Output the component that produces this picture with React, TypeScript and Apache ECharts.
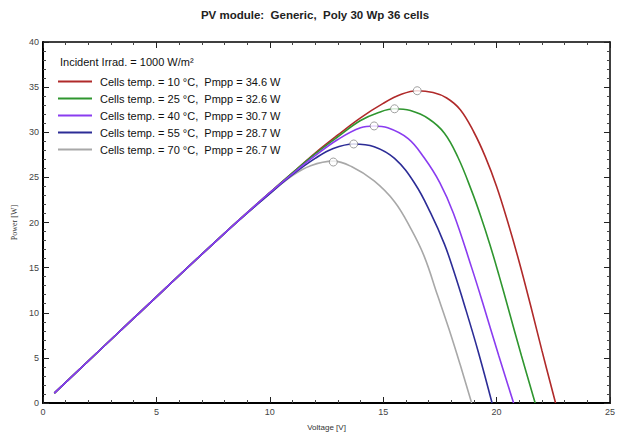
import React, { useEffect, useRef } from "react";
import * as echarts from "echarts";

const chartTitle = "PV module:  Generic,  Poly 30 Wp 36 cells";
const irradText = "Incident Irrad. = 1000 W/m²";
const seriesNames = [
  "Cells temp. = 10 °C,  Pmpp = 34.6 W",
  "Cells temp. = 25 °C,  Pmpp = 32.6 W",
  "Cells temp. = 40 °C,  Pmpp = 30.7 W",
  "Cells temp. = 55 °C,  Pmpp = 28.7 W",
  "Cells temp. = 70 °C,  Pmpp = 26.7 W",
];
const seriesColors = ["#b02a2a", "#2f962f", "#8a3cf0", "#2c2c96", "#a8a8a8"];

// [Voltage V, Power W]
const curve10: number[][] = [
  [0.5, 1.1], [4, 9.4], [8, 18.8], [10, 23.3], [11, 25.5],
  [12, 27.7], [13, 29.7], [14, 31.6], [15, 33.2], [15.8, 34.2], [16.5, 34.6],
  [17.2, 34.4], [17.8, 33.8], [18.4, 32.5], [19, 30.0], [19.5, 27.3],
  [20, 24.0], [20.5, 20.0], [21, 15.6], [21.5, 10.8], [22, 5.8], [22.6, 0],
];
const curve25: number[][] = [
  [0.5, 1.1], [4, 9.4], [8, 18.8], [10, 23.3], [11, 25.5],
  [12, 27.6], [13, 29.5], [14, 31.3], [14.8, 32.2], [15.5, 32.6], [16.2, 32.4],
  [17, 31.5], [17.7, 29.9], [18.3, 27.2], [18.9, 23.5], [19.3, 20.7],
  [19.7, 17.6], [20.1, 14.2], [20.5, 10.6], [21.1, 5.2], [21.7, 0],
];
const curve40: number[][] = [
  [0.5, 1.1], [4, 9.4], [8, 18.8], [10, 23.3], [11, 25.4],
  [12, 27.4], [13, 29.2], [14, 30.5], [14.6, 30.7], [15.2, 30.5], [16.1, 29.3],
  [16.8, 27.2], [17.5, 24.4], [18.1, 21.0], [18.9, 15.0], [19.4, 11.0],
  [20.1, 5.2], [20.75, 0],
];
const curve55: number[][] = [
  [0.5, 1.1], [4, 9.4], [8, 18.8], [10, 23.2], [11, 25.3],
  [12, 27.1], [12.8, 28.2], [13.7, 28.7], [14.6, 28.4], [15.5, 27.1],
  [16.4, 24.3], [17.1, 21.0], [17.7, 17.6], [18.1, 14.7], [18.6, 10.7],
  [19.2, 5.6], [19.8, 0],
];
const curve70: number[][] = [
  [0.5, 1.1], [4, 9.4], [8, 18.8], [10, 23.2], [11, 25.2],
  [11.8, 26.3], [12.8, 26.8], [13.6, 26.2], [14.6, 24.6], [15.5, 22.3],
  [16.2, 19.4], [16.8, 16.3], [17.4, 11.9], [17.9, 8.2], [18.4, 4.2], [18.9, 0],
];
const mppPoints: number[][] = [
  [16.5, 34.6], [15.5, 32.6], [14.6, 30.7], [13.7, 28.7], [12.8, 26.7],
];

const xTicks = { min: 0, max: 25, interval: 5 };
const yTicks = { min: 0, max: 40, interval: 5 };

const FONT = "Liberation Sans, Arial, sans-serif";

export default function App() {
  const ref = useRef<HTMLDivElement>(null);
  useEffect(() => {
    document.body.style.margin = "0";
    if (!ref.current) return;
    const chart = echarts.init(ref.current, undefined, { renderer: "svg" });
    const curves = [curve10, curve25, curve40, curve55, curve70];
    const axisCommon = (show: boolean) => ({
      type: "value" as const,
      splitLine: { show: false },
      axisLine: { show: true, onZero: false, lineStyle: { color: "#000", width: show ? 2 : 1.5 } },
      axisTick: { show: true, inside: true, length: 6, lineStyle: { color: "#222", width: 1 } },
      minorTick: { show: true, splitNumber: 5, length: 3, lineStyle: { color: "#444", width: 1 } },
      axisLabel: show
        ? { show: true, fontSize: 9, color: "#444", fontFamily: FONT, margin: 4 }
        : { show: false },
    });
    const lineSeries = curves.map((data, i) => ({
      name: seriesNames[i],
      type: "line" as const,
      data,
      smooth: 0.4,
      showSymbol: false,
      symbol: "none",
      lineStyle: { color: seriesColors[i], width: 1.6 },
      itemStyle: { color: seriesColors[i] },
      z: 2 + (i === 2 ? 5 : i === 3 ? 4 : 0),
    }));
    chart.setOption({
      animation: false,
      backgroundColor: "#fff",
      grid: { left: 43, right: 6, top: 42, bottom: 29 },
      xAxis: [
        {
          ...axisCommon(true),
          ...xTicks,
          position: "bottom",
          name: "Voltage [V]",
          nameLocation: "middle",
          nameGap: 20,
          nameTextStyle: { fontSize: 8, color: "#333", fontFamily: FONT },
        },
        { ...axisCommon(false), ...xTicks, position: "top" },
      ],
      yAxis: [
        {
          ...axisCommon(true),
          ...yTicks,
          position: "left",
          name: "Power [W]",
          nameLocation: "middle",
          nameGap: 24,
          nameTextStyle: { fontSize: 8, color: "#333", fontFamily: "Liberation Serif, serif" },
        },
        { ...axisCommon(false), ...yTicks, position: "right" },
      ],
      legend: {
        orient: "vertical",
        left: 58,
        top: 75,
        padding: 0,
        itemWidth: 34,
        itemHeight: 2,
        itemGap: 4,
        icon: "rect",
        data: seriesNames,
        textStyle: { fontSize: 11, color: "#111", fontFamily: FONT, lineHeight: 13, padding: [0, 0, 0, 3] },
      },
      graphic: [
        {
          type: "text",
          x: 315,
          y: 15,
          style: {
            text: chartTitle,
            textAlign: "center",
            textVerticalAlign: "middle",
            font: "bold 11.5px " + FONT,
            fill: "#222",
          },
        },
        {
          type: "text",
          x: 60,
          y: 62,
          style: {
            text: irradText,
            textVerticalAlign: "middle",
            font: "11px " + FONT,
            fill: "#111",
          },
        },
      ],
      series: [
        ...lineSeries,
        {
          type: "scatter",
          data: mppPoints,
          symbol: "circle",
          symbolSize: 8,
          itemStyle: { color: "#fff", borderColor: "#888", borderWidth: 1 },
          z: 10,
          silent: true,
        },
      ],
    });
    return () => chart.dispose();
  }, []);
  return <div ref={ref} style={{ width: 618, height: 436 }} />;
}
